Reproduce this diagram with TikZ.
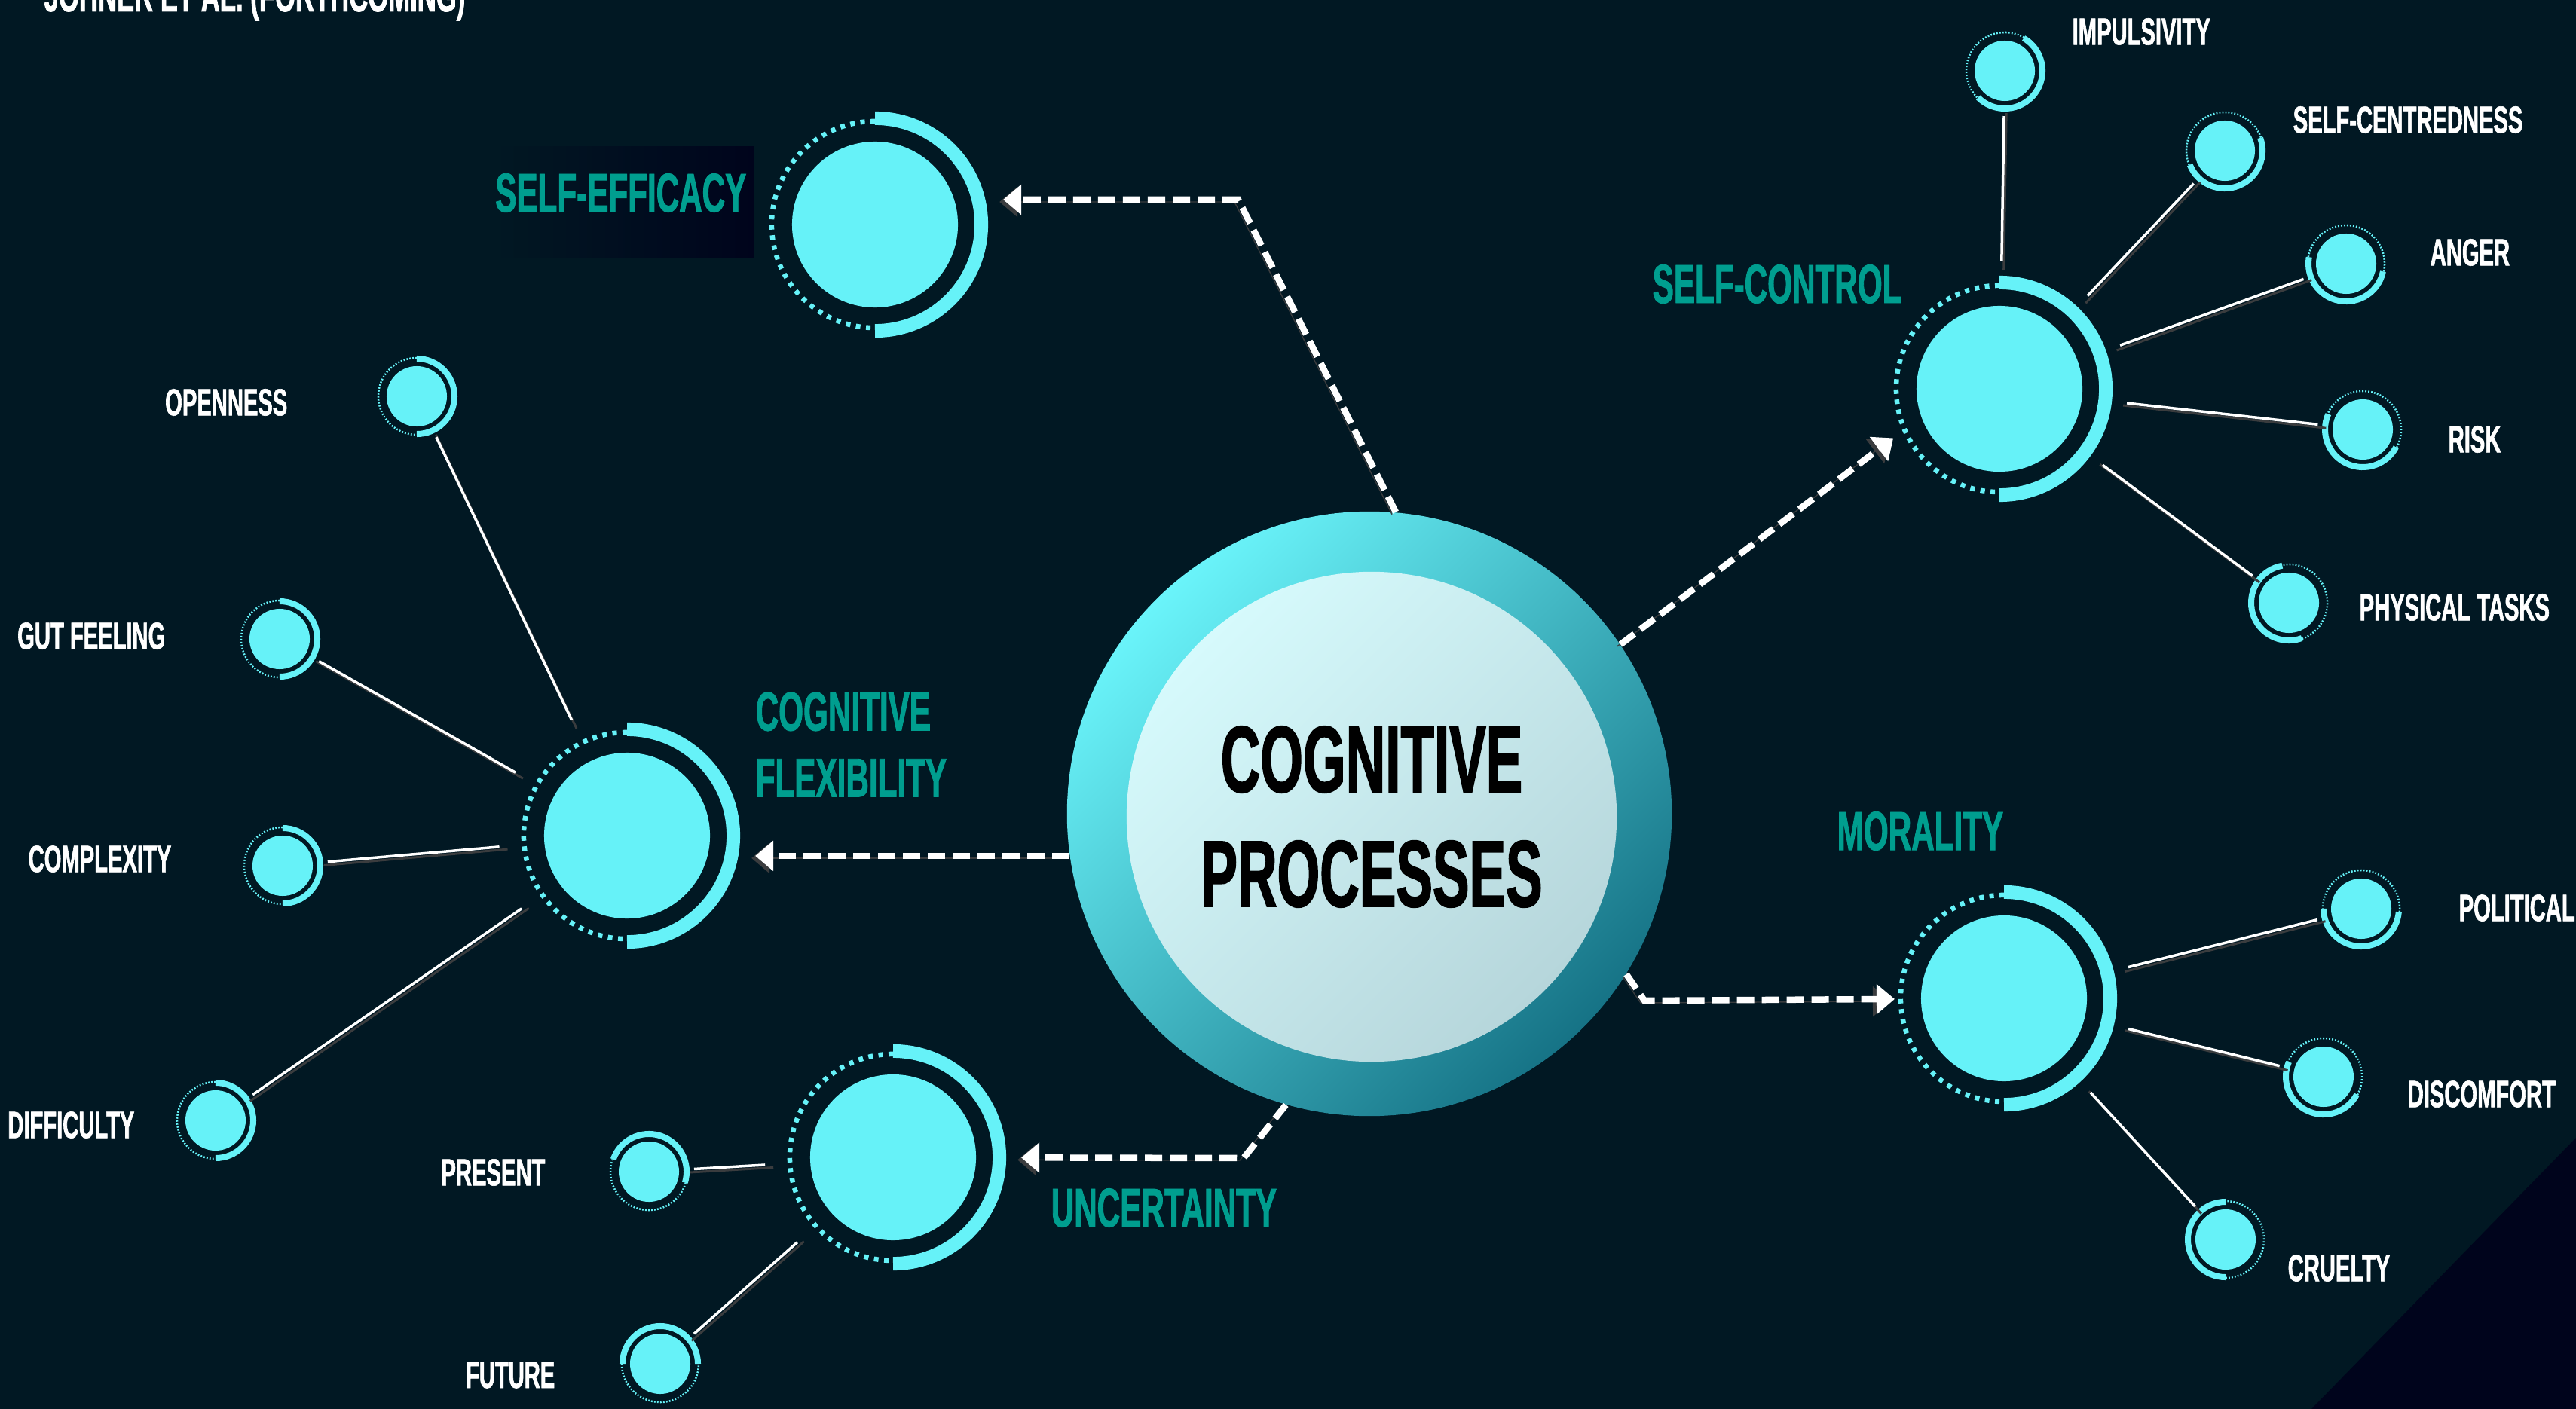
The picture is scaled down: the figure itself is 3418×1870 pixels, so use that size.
\documentclass[tikz,border=0pt]{standalone}
\usepackage{fontspec}
\newfontfamily\bebas[FakeStretch=0.58, FakeBold=1.2]{Liberation Sans}
\usetikzlibrary{arrows.meta, positioning}

\definecolor{bg}{HTML}{011823}
\definecolor{bgdeep}{HTML}{00041C}
\definecolor{glow}{HTML}{66F2F8}
\definecolor{tealtxt}{HTML}{009E8F}
\definecolor{shadowgrey}{HTML}{3A3C3E}
\definecolor{ringA}{HTML}{6AF4FA}
\definecolor{ringB}{HTML}{4CC3CF}
\definecolor{ringC}{HTML}{167386}
\definecolor{coreA}{HTML}{D6FAFC}
\definecolor{coreB}{HTML}{C8EBEF}
\definecolor{coreC}{HTML}{B6D6DB}

% rings round the hubs and the leaves
\newcommand\hubring[1]{%
  \draw[hubarc] (#1.center) ++(90:1.41cm) arc[start angle=90, end angle=-90, radius=1.41cm];
  \draw[hubdots] (#1.center) ++(90:1.37cm) arc[start angle=90, end angle=270, radius=1.37cm];}
\newcommand\leafring[3]{%
  \draw[leafarc] (#1.center) ++(#2:0.5cm) arc[start angle=#2, end angle=#3, radius=0.5cm];
  \pgfmathsetmacro\dotend{#2+360}
  \draw[leafdots] (#1.center) ++(#3:0.51cm) arc[start angle=#3, end angle=\dotend, radius=0.51cm];}

\begin{document}
\begin{tikzpicture}[x=0.01cm, y=-0.01cm,
    hub/.style={circle, fill=glow, minimum size=2.2cm, inner sep=0pt, outer sep=0.6cm},
    leaf/.style={circle, fill=glow, minimum size=0.8cm, inner sep=0pt, outer sep=0.2cm},
    hubarc/.style={draw=glow, line width=0.18cm},
    hubdots/.style={draw=glow, line width=0.065cm, dash pattern=on 0.06cm off 0.075cm},
    leafarc/.style={draw=glow, line width=0.08cm},
    leafdots/.style={draw=glow, line width=0.025cm, dash pattern=on 0.018cm off 0.022cm},
    tag/.style={text=white, inner sep=0pt, font=\bebas\bfseries\fontsize{14.3}{17}\selectfont},
    hubtag/.style={text=tealtxt, inner sep=0pt, align=left, font=\bebas\bfseries\fontsize{20.7}{25}\selectfont},
    corering/.style={circle, minimum size=8.02cm, inner sep=0pt, top color=ringA, middle color=ringB, bottom color=ringC, shading angle=45},
    core/.style={circle, minimum size=6.5cm, inner sep=0pt, top color=coreA, middle color=coreB, bottom color=coreC, shading angle=45, align=center, font=\bebas\bfseries\fontsize{35.7}{43.2}\selectfont},
    spoke/.style={draw=white, line width=0.035cm},
    spokeshade/.style={draw=shadowgrey, line width=0.03cm, shorten <=-0.08cm, shorten >=-0.08cm, transform canvas={shift={(0.03cm,-0.04cm)}}},
    flow/.style={draw=white, line width=0.085cm, dash pattern=on 0.23cm off 0.1cm, -{Triangle[length=0.24cm, width=0.39cm]},
        preaction={draw=shadowgrey, transform canvas={shift={(-0.05cm,-0.03cm)}}}}
]
    \useasboundingbox (0,0) rectangle (3418,1870);
    \fill[bg] (0,0) rectangle (3418,1870);
    \fill[bgdeep] (3418,1510) -- (3418,1870) -- (3067,1870) -- cycle;
    \shade[left color=bg, right color=bgdeep] (656,195) rectangle (1000,342);

    \node[tag, anchor=base west, font=\bebas\bfseries\fontsize{17}{20}\selectfont] (note) at (58,15) {JOHNER ET AL. (FORTHCOMING)};

    % centre
    \node[corering] (cogring) at (1817,1080) {};
    \node[core] (cog) at (1820,1084) {COGNITIVE\\PROCESSES};

    % hubs
    \foreach \nm/\px/\py in {seff/1161/298, cflex/832/1109, unc/1185/1536, ctrl/2653/516, mor/2659/1325} {
        \node[hub] (\nm) at (\px,\py) {};
        \hubring{\nm}
    }
    \node[hubtag, anchor=east] (seff-tag) at (991,256) {SELF-EFFICACY};
    \node[hubtag, anchor=west] (cflex-tag) at (1002,988) {COGNITIVE\\FLEXIBILITY};
    \node[hubtag, anchor=west] (unc-tag) at (1394,1603) {UNCERTAINTY};
    \node[hubtag, anchor=west] (ctrl-tag) at (2192,377) {SELF-CONTROL};
    \node[hubtag, anchor=west] (mor-tag) at (2437,1103) {MORALITY};

    % leaves
    \foreach \nm/\px/\py/\sa/\ea/\lx/\ly/\an/\txt in {
        open/553/526/270/450/382/534/east/OPENNESS,
        gut/371/848/270/450/220/844/east/GUT FEELING,
        cplx/375/1149/270/450/228/1140/east/COMPLEXITY,
        diff/286/1487/270/450/179/1493/east/DIFFICULTY,
        pres/861/1555/-17/161/724/1556/east/PRESENT,
        fut/876/1810/0/180/737/1825/east/FUTURE,
        imp/2660/94/225/420/2749/42/west/IMPULSIVITY,
        cent/2952/200/202/380/3042/159/west/SELF-CENTREDNESS,
        ang/3113/350/170/348/3224/335/west/ANGER,
        risk/3135/570/156/332/3248/583/west/RISK,
        phys/3037/800/100/290/3130/806/west/PHYSICAL TASKS,
        pol/3133/1206/180/355/3262/1205/west/POLITICAL,
        disc/3083/1429/157/332/3194/1452/west/DISCOMFORT,
        cru/2953/1645/90/270/3035/1683/west/CRUELTY} {
        \node[leaf] (\nm) at (\px,\py) {};
        \leafring{\nm}{\sa}{\ea}
        \node[tag, anchor=\an] (\nm-tag) at (\lx,\ly) {\txt};
    }

    % spokes
    \foreach \hb/\leaves in {cflex/{open,gut,cplx,diff}, unc/{pres,fut}, ctrl/{imp,cent,ang,risk,phys}, mor/{pol,disc,cru}} {
        \foreach \lf in \leaves {
            \draw[spokeshade] (\hb) -- (\lf);
            \draw[spoke] (\hb) -- (\lf);
        }
    }

    % arrows out of the centre
    \coordinate (bend1) at (1643,265);
    \coordinate (bend3) at (2182,1328);
    \coordinate (bend4) at (1650,1537);
    \draw[flow] (cogring.85) -- (bend1) -- (bend1 -| seff.east);
    \draw[flow] (cogring.188) -- (cogring.188 -| cflex.east);
    \draw[flow] (cogring.-106) -- (bend4) -- (unc);
    \draw[flow, shorten >=-0.15cm] (cogring.34) -- (ctrl.206);
    \draw[flow, shorten >=-0.25cm] (cogring.-32) -- (bend3) -- (mor);
\end{tikzpicture}
\end{document}
